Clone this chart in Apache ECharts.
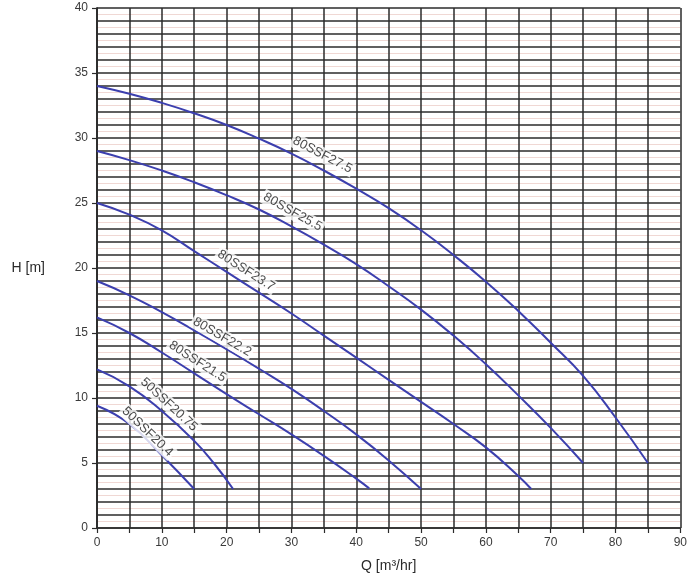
<!DOCTYPE html>
<html>
<head>
<meta charset="utf-8">
<script src="https://cdn.jsdelivr.net/npm/echarts@6/dist/echarts.min.js"></script>
<style>html,body{margin:0;padding:0;background:#fff;}#c{width:690px;height:583px;}</style>
</head>
<body>
<div id="c"></div>
<script>
// ---- data ----
const seriesNames = ['80SSF27.5','80SSF25.5','80SSF23.7','80SSF22.2','80SSF21.5','50SSF20.75','50SSF20.4'];
const q27_5 = [0,5,10,15,20,25,30,35,40,45,50,55,60,65,70,75,80,85];
const h27_5 = [34,33.4,32.7,31.9,31.0,29.95,28.8,27.5,26.1,24.6,22.9,21.0,18.95,16.7,14.25,11.7,8.5,5];
const q25_5 = [0,5,10,15,20,25,30,35,40,45,50,55,60,65,70,75];
const h25_5 = [29,28.3,27.5,26.6,25.6,24.5,23.2,21.8,20.3,18.6,16.8,14.8,12.6,10.2,7.7,5];
const q23_7 = [0,5,10,15,20,25,30,35,40,45,50,55,60,65,67];
const h23_7 = [25,24.1,22.9,21.3,19.7,18.1,16.5,14.8,13.1,11.4,9.7,8.0,6.2,4.0,3.0];
const q22_2 = [0,5,10,15,20,25,30,35,40,45,50];
const h22_2 = [19,17.9,16.6,15.2,13.75,12.25,10.7,9.0,7.2,5.2,3.0];
const q21_5 = [0,5,10,15,20,25,30,35,40,42];
const h21_5 = [16.2,15.0,13.5,11.9,10.3,8.75,7.2,5.55,3.8,3.05];
const q20_75 = [0,5,10,15,18,21];
const h20_75 = [12.2,10.9,9.0,6.7,5.0,3.0];
const q20_4 = [0,5,10,15];
const h20_4 = [9.4,8.0,5.6,3.0];
// label anchor (Q, H) of each curve name
const labelQ = [34.8,30.2,23.0,19.3,15.5,11.1,7.8];
const labelH = [28.7,24.3,19.8,14.7,12.8,9.5,7.4];
const xTicks = [0,10,20,30,40,50,60,70,80,90];
const yTicks = [0,5,10,15,20,25,30,35,40];

const curvesQ = [q27_5,q25_5,q23_7,q22_2,q21_5,q20_75,q20_4];
const curvesH = [h27_5,h25_5,h23_7,h22_2,h21_5,h20_75,h20_4];

// layout
const G = {left:97, right:8, top:8, bottom:55};
const W = 690 - G.left - G.right, H = 583 - G.top - G.bottom;
const pxQ = W/90, pxH = H/40;

function slopeAt(qs, hs, q){
  for (let i=0;i<qs.length-1;i++){
    if (q>=qs[i] && q<=qs[i+1]) return (hs[i+1]-hs[i])/(qs[i+1]-qs[i]);
  }
  return 0;
}

const lineColor = '#3c3fae';
const gridColor = '#2b2b2b';
const font = 'Liberation Sans, Arial, sans-serif';

const series = curvesQ.map((qs,k)=>({
  type:'line', name: seriesNames[k], xAxisIndex:0, yAxisIndex:0,
  data: qs.map((q,i)=>[q, curvesH[k][i]]),
  smooth: 0.5, showSymbol:false, symbol:'none',
  lineStyle:{color:lineColor, width:2}, z:3, silent:true
}));

series.push({
  type:'scatter', xAxisIndex:0, yAxisIndex:0, symbolSize:0, z:5, silent:true,
  data: seriesNames.map((n,k)=>{
    const s = slopeAt(curvesQ[k], curvesH[k], labelQ[k]);
    const ang = Math.atan(-s*pxH/pxQ)*180/Math.PI;
    return {
      value:[labelQ[k], labelH[k]], name:n,
      label:{show:true, position:'inside', formatter:n, rotate: -ang,
        fontFamily:font, fontSize:13, color:'#1a1a1a',
        backgroundColor:'#ffffff', padding:[1,2]}
    };
  })
});

const axisFont = {fontFamily:font, fontSize:12, color:'#3a3a3a'};

const option = {
  animation:false,
  backgroundColor:'#ffffff',
  grid:{left:G.left, right:G.right, top:G.top, bottom:G.bottom, containLabel:false},
  xAxis:[{
    type:'value', min:0, max:90, interval:5,
    name:'Q [m³/hr]', nameLocation:'middle', nameGap:31,
    nameTextStyle:{fontFamily:font, fontSize:14, color:'#2a2a2a'},
    axisLine:{show:true, onZero:false, lineStyle:{color:gridColor, width:1.5}},
    axisTick:{show:true, length:5, lineStyle:{color:gridColor, width:1.2}},
    axisLabel:Object.assign({margin:9, formatter:(v)=> xTicks.includes(v) ? String(v) : ''}, axisFont),
    splitLine:{show:true, lineStyle:{color:gridColor, width:1.5}}
  }],
  yAxis:[{
    type:'value', min:0, max:40, interval:1,
    axisLine:{show:true, onZero:false, lineStyle:{color:gridColor, width:1.5}},
    axisTick:{show:false}, axisLabel:{show:false},
    splitLine:{show:true, lineStyle:{color:gridColor, width:1.5}},
    minorTick:{show:false, splitNumber:2},
    minorSplitLine:{show:true, lineStyle:{color:'#f0d8d4', width:1}}
  },{
    type:'value', min:0, max:40, interval:5, position:'left',
    name:'H [m]', nameLocation:'middle', nameGap:52, nameRotate:0,
    nameTextStyle:{fontFamily:font, fontSize:14, color:'#2a2a2a'},
    axisLine:{show:true, onZero:false, lineStyle:{color:gridColor, width:1.5}},
    axisTick:{show:true, length:5, lineStyle:{color:gridColor, width:1.2}},
    axisLabel:Object.assign({margin:9, formatter:(v)=> yTicks.includes(v) ? String(v) : ''}, axisFont),
    splitLine:{show:false}
  }],
  series: series
};

const chart = echarts.init(document.getElementById('c'), null, {renderer:'canvas'});
chart.setOption(option);
</script>
</body>
</html>
